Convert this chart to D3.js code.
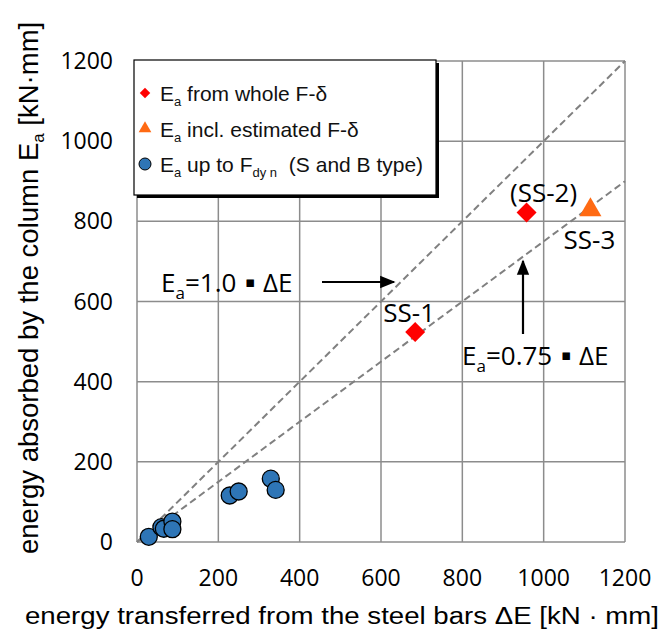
<!DOCTYPE html>
<html>
<head>
<meta charset="utf-8">
<script src="https://cdn.jsdelivr.net/npm/d3@7"></script>
<style>
  body { margin: 0; background: #fff; }
  svg { display: block; }
</style>
</head>
<body>
<script>
// values
const ticks = [0, 200, 400, 600, 800, 1000, 1200];
const upToFdynX = [29, 60, 66, 87, 87, 228, 250, 329, 341];
const upToFdynY = [13, 37, 33, 51, 32, 116, 126, 158, 130];
const wholeLabels = ["SS-1", "(SS-2)"];
const wholeX = [684, 958];
const wholeY = [524, 822];
const estLabels = ["SS-3"];
const estX = [1115];
const estY = [826];
const ratios = [1.0, 0.75];

const w = 663, h = 635;
const margin = { left: 137, top: 61, right: 38, bottom: 93 };

const svg = d3.select("body").append("svg")
  .attr("width", w)
  .attr("height", h);

const x = d3.scaleLinear().domain([0, 1200]).range([margin.left, w - margin.right]);
const y = d3.scaleLinear().domain([0, 1200]).range([h - margin.bottom, margin.top]);

const gridColor = "#8c8c8c";
const numFont = "'Open Sans', sans-serif";
const txtFont = "'Liberation Sans', Arial, sans-serif";

// grid
svg.append("g").selectAll("line").data(ticks).enter().append("line")
  .attr("x1", d => x(d)).attr("x2", d => x(d))
  .attr("y1", y(0)).attr("y2", y(1200))
  .attr("stroke", gridColor).attr("stroke-width", 1.5);
svg.append("g").selectAll("line").data(ticks).enter().append("line")
  .attr("x1", x(0)).attr("x2", x(1200))
  .attr("y1", d => y(d)).attr("y2", d => y(d))
  .attr("stroke", gridColor).attr("stroke-width", 1.5);

// tick labels
svg.append("g").selectAll("text").data(ticks).enter().append("text")
  .attr("x", d => x(d)).attr("y", y(0) + 44)
  .attr("text-anchor", "middle")
  .style("font", `23px ${numFont}`)
  .text(d => d);
svg.append("g").selectAll("text").data(ticks).enter().append("text")
  .attr("x", x(0) - 24).attr("y", d => y(d) + 8)
  .attr("text-anchor", "end")
  .style("font", `23px ${numFont}`)
  .text(d => d);

// reference lines Ea = k * dE
const line = d3.line().x(d => x(d[0])).y(d => y(d[1]));
svg.append("g").selectAll("path").data(ratios).enter().append("path")
  .attr("d", k => line([[0, 0], [1200, 1200 * k]]))
  .attr("fill", "none")
  .attr("stroke", "#808080")
  .attr("stroke-width", 2)
  .attr("stroke-dasharray", "7,4");

// blue circles
const circleData = upToFdynX.map((v, i) => ({ x: v, y: upToFdynY[i] }));
svg.append("g").selectAll("circle").data(circleData).enter().append("circle")
  .attr("cx", d => x(d.x)).attr("cy", d => y(d.y))
  .attr("r", 8.5)
  .attr("fill", "#2e75b6")
  .attr("stroke", "#000").attr("stroke-width", 1.3);

// red diamonds
const diamond = d3.symbol().type(d3.symbolSquare).size(200);
const wholeData = wholeX.map((v, i) => ({ x: v, y: wholeY[i], label: wholeLabels[i] }));
svg.append("g").selectAll("path").data(wholeData).enter().append("path")
  .attr("d", diamond)
  .attr("transform", d => `translate(${x(d.x)},${y(d.y)}) rotate(45)`)
  .attr("fill", "#ff0000");

// orange triangle
const tri = d3.symbol().type(d3.symbolTriangle).size(210);
const estData = estX.map((v, i) => ({ x: v, y: estY[i], label: estLabels[i] }));
svg.append("g").selectAll("path").data(estData).enter().append("path")
  .attr("d", tri)
  .attr("transform", d => `translate(${x(d.x)},${y(d.y) - 1})`)
  .attr("fill", "#ff6a13");

// point labels
const ptLabel = (txt, px, py) => svg.append("text")
  .attr("x", px).attr("y", py)
  .attr("text-anchor", "middle")
  .style("font", `26px ${numFont}`)
  .text(txt);
ptLabel(wholeData[0].label, x(wholeData[0].x) - 6, y(wholeData[0].y) - 10);
ptLabel(wholeData[1].label, x(wholeData[1].x) + 17, y(wholeData[1].y) - 11);
ptLabel(estData[0].label, x(estData[0].x) - 1, y(estData[0].y) + 38);

// arrows
const defs = svg.append("defs");
defs.append("marker")
  .attr("id", "head")
  .attr("viewBox", "0 0 10 10")
  .attr("refX", 9).attr("refY", 5)
  .attr("markerWidth", 7).attr("markerHeight", 7)
  .attr("markerUnits", "strokeWidth")
  .attr("orient", "auto")
  .append("path").attr("d", "M0,1 L10,5 L0,9 Z").attr("fill", "#000");

svg.append("line")
  .attr("x1", 322).attr("y1", 282).attr("x2", 394).attr("y2", 282)
  .attr("stroke", "#000").attr("stroke-width", 2.2)
  .attr("marker-end", "url(#head)");
svg.append("line")
  .attr("x1", 523).attr("y1", 334).attr("x2", 523).attr("y2", 261)
  .attr("stroke", "#000").attr("stroke-width", 2.2)
  .attr("marker-end", "url(#head)");

// equation labels
const eqLabel = (px, py, k) => {
  const t = svg.append("text").attr("x", px).attr("y", py)
    .style("font", `26px ${numFont}`);
  t.append("tspan").text("E");
  t.append("tspan").attr("dy", 7).style("font-size", "17px").text("a");
  t.append("tspan").attr("dy", -7).text(`=${k}`);
  t.append("tspan").style("font-family", "'DejaVu Sans'").style("font-size", "15px")
    .attr("dx", 4).attr("dy", -5).text(" \u25AA ");
  t.append("tspan").attr("dx", 3).attr("dy", 5).text("\u0394E");
};
eqLabel(161, 292, "1.0");
eqLabel(462, 365, "0.75");

// legend with shadow
const lg = { x: 134, y: 60, w: 302, h: 135 };
svg.append("rect")
  .attr("x", lg.x + 3).attr("y", lg.y + 3)
  .attr("width", lg.w).attr("height", lg.h)
  .attr("fill", "#000");
svg.append("rect")
  .attr("x", lg.x).attr("y", lg.y)
  .attr("width", lg.w).attr("height", lg.h)
  .attr("fill", "#fff").attr("stroke", "#000").attr("stroke-width", 1.2);

const legendItems = [
  { kind: "diamond", rest: " from whole F-\u03B4" },
  { kind: "triangle", rest: " incl. estimated F-\u03B4" },
  { kind: "circle", rest: " up to F" }
];
const lgY = d3.scalePoint().domain(legendItems.map(d => d.kind)).range([93, 164]);

legendItems.forEach(item => {
  const cy = lgY(item.kind);
  if (item.kind === "diamond") {
    svg.append("path").attr("d", d3.symbol().type(d3.symbolSquare).size(55))
      .attr("transform", `translate(145,${cy}) rotate(45)`).attr("fill", "#ff0000");
  } else if (item.kind === "triangle") {
    svg.append("path").attr("d", d3.symbol().type(d3.symbolTriangle).size(70))
      .attr("transform", `translate(145,${cy})`).attr("fill", "#ff6a13");
  } else {
    svg.append("circle").attr("cx", 145).attr("cy", cy).attr("r", 6)
      .attr("fill", "#2e75b6").attr("stroke", "#000").attr("stroke-width", 1);
  }
  const t = svg.append("text").attr("x", 160).attr("y", cy + 8)
    .style("font", `21px ${txtFont}`).attr("fill", "#111");
  t.append("tspan").text("E");
  t.append("tspan").attr("dy", 5).style("font-size", "13px").text("a");
  t.append("tspan").attr("dy", -5).text(item.rest);
  if (item.kind === "circle") {
    t.append("tspan").attr("dy", 5).style("font-size", "13px").text("dy n");
    t.append("tspan").attr("dy", -5).attr("dx", 6).text("  (S and B type)");
  }
});

// axis titles
svg.append("text")
  .attr("x", 25).attr("y", 624)
  .attr("textLength", 634).attr("lengthAdjust", "spacingAndGlyphs")
  .style("font", `23px ${txtFont}`)
  .text("energy transferred from the steel bars \u0394E [kN \u00B7 mm]");

const yt = svg.append("text")
  .attr("transform", "translate(38,554) rotate(-90)")
  .style("font", `27.5px ${txtFont}`);
yt.append("tspan").text("energy absorbed by the column E");
yt.append("tspan").attr("dy", 6).style("font-size", "17px").text("a");
yt.append("tspan").attr("dy", -6).text("  [kN\u00B7mm]");
</script>
</body>
</html>
